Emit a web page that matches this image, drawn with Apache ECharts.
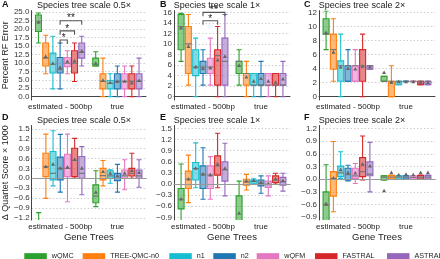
<!DOCTYPE html>
<html><head><meta charset="utf-8">
<script src="https://cdn.jsdelivr.net/npm/echarts@6/dist/echarts.min.js"></script>
<style>html,body{margin:0;padding:0;background:#fff}#c{width:440px;height:259px}</style>
</head><body><div id="c"></div>
<script>
const methods = ['wQMC','TREE-QMC-n0','n1','n2','wQFM','FASTRAL','ASTRAL-III'];
const colors = ['#2ca02c','#ff7f0e','#17becf','#1f77b4','#e377c2','#d62728','#9467bd'];
const groups = ['estimated - 500bp','true'];
const titles = ['Species tree scale 0.5×','Species tree scale 1×','Species tree scale 2×','Species tree scale 0.5×','Species tree scale 1×','Species tree scale 2×'];
const letters = ['A','B','C','D','E','F'];

// each row: [min, q1, median, q3, max, mean]
const A_est = [[15.9,19.3,22.2,24.2,24.8,22.0],[6.8,9.1,11.4,15.9,18.2,11.8],[2.3,7.0,9.6,12.9,17.9,9.8],[2.3,7.0,8.0,11.6,15.9,8.6],[6.8,8.9,9.9,11.6,13.6,10.4],[4.5,7.0,9.9,13.6,15.9,10.5],[9.1,11.4,13.1,15.9,17.9,13.5]];
const A_true = [[9.1,9.1,9.6,11.4,13.3,9.8],[0,2.3,4.5,6.8,11.4,4.8],[0,2.3,3.9,4.8,6.8,4.1],[0,2.3,4.5,6.8,9.1,4.4],[0,2.3,4.5,6.8,9.1,4.5],[0,2.3,4.5,6.8,9.1,4.0],[0,2.3,4.5,6.8,11.4,4.7]];
const B_est = [[6.7,8.9,13.3,15.6,15.8,13.0],[2.2,4.4,10.0,13.3,15.6,9.5],[0,4.0,5.6,8.9,11.1,5.6],[2.2,4.4,5.6,6.7,8.9,5.3],[2.2,4.4,5.6,7.3,11.1,5.4],[0,2.2,7.8,8.9,13.3,6.9],[0,2.2,6.7,11.1,15.6,7.6]];
const B_true = [[2.2,4.4,6.7,6.7,8.9,5.9],[0,2.2,4.4,4.4,6.7,3.7],[0,2.2,2.2,4.4,4.4,2.9],[0,2.2,2.2,4.4,6.7,3.4],[0,2.2,2.2,4.4,4.4,2.9],[0,2.2,2.2,4.4,4.4,2.7],[0,2.2,2.2,4.4,6.7,3.3]];
const C_est = [[6.7,8.9,8.9,11.1,12.2,9.1],[2.2,3.9,6.7,8.9,11.1,6.3],[0,2.2,4.4,5.1,8.9,4.2],[2.2,2.2,4.4,4.4,6.7,4.0],[2.2,2.2,4.4,4.4,6.7,3.9],[0,2.2,4.4,6.7,8.9,4.3],[3.9,3.9,4.4,4.4,4.4,4.2]];
const C_true = [[2.2,2.2,2.2,2.9,2.9,3.4],[0,0,2.2,2.2,4.4,2.0],[1.7,1.7,2.2,2.2,2.2,2.1],[2.2,2.2,2.2,2.2,2.2,2.1],[2.2,2.2,2.2,2.2,2.2,2.1],[1.7,1.7,2.2,2.2,2.2,2.0],[1.7,1.7,2.2,2.2,2.2,2.0]];
const D_est = [[-2.5,-2.0,-1.7,-1.4,-1.04,-1.7],[-0.61,0.05,0.35,0.76,1.34,0.35],[-0.23,-0.05,0.15,0.81,1.44,0.42],[-0.42,-0.05,0.30,0.64,1.33,0.30],[-0.71,0.05,0.30,0.73,1.34,0.33],[0.0,0.05,0.54,0.91,1.21,0.56],[-0.50,0.0,0.15,0.66,0.96,0.30]];
const D_true = [[-0.86,-0.74,-0.54,-0.20,0.23,-0.43],[-0.23,-0.05,0.08,0.30,0.54,0.20],[-0.15,0.0,0.07,0.23,0.26,0.15],[-0.42,-0.07,0.0,0.15,0.42,0.07],[-0.35,0.0,0.07,0.25,0.56,0.15],[0.0,0.07,0.15,0.30,0.76,0.23],[-0.27,0.0,0.07,0.25,0.56,0.17]];
const E_est = [[-1.1,-0.67,-0.41,-0.12,0.54,-0.41],[-0.50,-0.12,0.13,0.35,0.78,0.13],[-0.10,0.11,0.42,0.58,1.11,0.42],[-0.41,-0.12,0.26,0.49,0.98,0.26],[-0.41,-0.12,0.24,0.49,0.74,0.24],[-0.10,0.24,0.49,0.76,1.37,0.53],[-0.32,0.08,0.38,0.60,1.10,0.42]];
const E_true = [[-2.0,-1.3,-1.0,-0.32,0.08,-0.79],[-0.16,-0.03,0.06,0.13,0.26,0.08],[0.0,0.02,0.07,0.11,0.14,0.09],[-0.25,-0.05,0.02,0.11,0.22,0.04],[-0.32,-0.09,-0.01,0.08,0.22,0.0],[0.0,0.04,0.11,0.22,0.29,0.13],[-0.19,-0.03,0.06,0.18,0.29,0.09]];
const F_est = [[-1.5,-1.1,-0.62,-0.30,0.34,-0.58],[-0.77,-0.40,0.02,0.18,0.89,0.02],[0.02,0.06,0.15,0.31,0.65,0.22],[-0.04,-0.02,0.11,0.26,0.33,0.15],[-0.10,0.02,0.08,0.26,0.37,0.14],[-0.02,0.06,0.18,0.51,1.02,0.35],[-0.30,0.08,0.12,0.41,0.87,0.31]];
const F_true = [[-0.02,-0.02,0.05,0.08,0.08,-0.28],[0.0,0.0,0.05,0.09,0.09,0.15],[0.0,0.0,0.05,0.08,0.08,0.10],[0.0,0.0,0.05,0.08,0.08,0.11],[0.0,0.0,0.04,0.08,0.08,0.10],[0.0,0.0,0.05,0.09,0.09,0.15],[0.0,0.0,0.05,0.09,0.09,0.15]];

// significance brackets: [fromMethod, toMethod, value, label]
const A_sig = [[3,4,16.8,'*'],[3,5,19.5,'*'],[3,6,22.5,'**']];
const B_sig = [[3,5,14.4,'*'],[3,6,16.0,'**']];

const ticksA = [0,2.5,5,7.5,10,12.5,15,17.5,20,22.5,25];
const ticksB = [0,2,4,6,8,10,12,14,16];
const ticksC = [0,2,4,6,8,10,12];
const ticksD = [-1.2,-0.9,-0.6,-0.3,0,0.3,0.6,0.9,1.2,1.5];
const ticksE = [-0.9,-0.6,-0.3,0,0.3,0.6,0.9,1.2,1.5];
const ticksF = [-0.9,-0.6,-0.3,0,0.3,0.6,0.9,1.2];

const FONT = 'Liberation Sans, Arial, sans-serif';
const panels = [
  {est:A_est, tru:A_true, ticks:ticksA, min:-1, max:25.5, fmt:v=>v.toFixed(1), sig:A_sig, zero:false},
  {est:B_est, tru:B_true, ticks:ticksB, min:-0.63, max:16.33, fmt:v=>String(v), sig:B_sig, zero:false},
  {est:C_est, tru:C_true, ticks:ticksC, min:-0.47, max:12.25, fmt:v=>String(v), sig:null, zero:false},
  {est:D_est, tru:D_true, ticks:ticksD, min:-1.265, max:1.6, fmt:null, sig:null, zero:true},
  {est:E_est, tru:E_true, ticks:ticksE, min:-0.97, max:1.58, fmt:null, sig:null, zero:true},
  {est:F_est, tru:F_true, ticks:ticksF, min:-0.964, max:1.269, fmt:null, sig:null, zero:true}
];
const signed = v => (v < 0 ? '\u2212' + (-v).toFixed(1) : v.toFixed(1));

const lefts = [30,174,319];
const legendLefts = [19.3,77.7,164.3,208.3,251.7,310,382];
const grids = [], xAxes = [], yAxes = [], series = [], graphics = [];

function rgba(hex, a){
  const n = parseInt(hex.slice(1),16);
  return 'rgba('+((n>>16)&255)+','+((n>>8)&255)+','+(n&255)+','+a+')';
}

function boxRenderer(mi, color){
  return function(params, api){
    const g = api.value(0);
    const band = api.size([1,0])[0];
    const step = band*0.126;
    const cx = api.coord([g,0])[0] + (mi-3)*step;
    const bw = step*0.82, cw = bw*0.85;
    const py = k => api.coord([g, api.value(k)])[1];
    const yMin=py(1), yQ1=py(2), yMed=py(3), yQ3=py(4), yMax=py(5), yMean=py(6);
    const ls = {stroke:color, lineWidth:1.1, fill:null};
    return {type:'group', children:[
      {type:'line', shape:{x1:cx,y1:yMax,x2:cx,y2:yQ3}, style:ls},
      {type:'line', shape:{x1:cx,y1:yQ1,x2:cx,y2:yMin}, style:ls},
      {type:'line', shape:{x1:cx-cw/2,y1:yMax,x2:cx+cw/2,y2:yMax}, style:ls},
      {type:'line', shape:{x1:cx-cw/2,y1:yMin,x2:cx+cw/2,y2:yMin}, style:ls},
      {type:'rect', shape:{x:cx-bw/2,y:yQ3,width:bw,height:Math.max(yQ1-yQ3,0.5)}, style:{fill:rgba(color,0.55), stroke:color, lineWidth:1.1}},
      {type:'line', shape:{x1:cx-bw/2,y1:yMed,x2:cx+bw/2,y2:yMed}, style:{stroke:'#777', lineWidth:1.2}},
      {type:'polygon', shape:{points:[[cx,yMean-2.3],[cx-2,yMean+1.3],[cx+2,yMean+1.3]]}, style:{fill:'#666'}}
    ]};
  };
}

function sigRenderer(params, api){
  const band = api.size([1,0])[0];
  const step = band*0.126;
  const c0 = api.coord([0,0])[0];
  const x1 = c0 + (api.value(0)-3)*step, x2 = c0 + (api.value(1)-3)*step;
  const y = api.coord([0, api.value(2)])[1];
  return {type:'group', children:[
    {type:'polyline', shape:{points:[[x1,y+4],[x1,y],[x2,y],[x2,y+4]]}, style:{stroke:'#555', lineWidth:1.1, fill:null}},
    {type:'text', style:{text:api.value(3), x:(x1+x2)/2, y:y+3, align:'center', verticalAlign:'bottom', fontSize:10, fontFamily:FONT, fill:'#222'}}
  ]};
}

panels.forEach((p, i) => {
  const row = Math.floor(i/3), col = i%3;
  const top = row===0 ? 10.6 : 125.5;
  const height = row===0 ? 89.4 : 94.5;
  grids.push({left:lefts[col], top:top, width:116, height:height});
  xAxes.push({
    gridIndex:i, type:'category', data:groups,
    axisLine:{show:true, lineStyle:{color:'#444', width:1}},
    axisTick:{show:false},
    axisLabel:{interval:0, fontSize:8, color:'#222', margin:3, fontFamily:FONT},
    splitLine:{show:false},
    name: row===1 ? 'Gene Trees' : '',
    nameLocation:'middle', nameGap:7,
    nameTextStyle:{fontSize:9.5, color:'#222', fontFamily:FONT}
  });
  yAxes.push({
    gridIndex:i, type:'value', min:p.min, max:p.max,
    axisLine:{show:true, lineStyle:{color:'#444', width:1}},
    axisTick:{show:false, customValues:p.ticks},
    axisLabel:{customValues:p.ticks, formatter: p.fmt || signed, fontSize:8, color:'#333', margin:2, fontFamily:FONT},
    splitLine:{show:true, lineStyle:{color:'#cfcfcf', type:[1.5,2], width:1}},
    name: col===0 ? (row===0 ? 'Percent RF Error' : 'Δ Quartet Score × 1000') : '',
    nameLocation:'middle', nameGap:17,
    nameTextStyle:{fontSize:9, color:'#222', fontFamily:FONT}
  });
  methods.forEach((m, mi) => {
    const s = {
      name:m, type:'custom', xAxisIndex:i, yAxisIndex:i, clip:true,
      itemStyle:{color:colors[mi]},
      renderItem: boxRenderer(mi, colors[mi]),
      encode:{x:0, y:[1,2,3,4,5,6]},
      data:[[0].concat(p.est[mi]), [1].concat(p.tru[mi])],
      silent:true
    };
    if (mi===0 && p.zero) {
      s.markLine = {silent:true, symbol:'none', label:{show:false}, data:[{yAxis:0}], lineStyle:{color:'#999', type:'solid', width:1}};
    }
    series.push(s);
  });
  if (p.sig) {
    series.push({
      type:'custom', xAxisIndex:i, yAxisIndex:i, renderItem:sigRenderer, silent:true,
      encode:{x:0, y:2}, data:p.sig
    });
  }
  const tx = [84,217,362][col];
  graphics.push({type:'text', x:tx, y: row===0 ? 5.5 : 121, style:{text:titles[i], align:'center', verticalAlign:'middle', fontSize:9, fontFamily:FONT, fill:'#222'}});
  graphics.push({type:'text', x:[2,160,304][col], y: row===0 ? 5 : 118, style:{text:letters[i], align:'left', verticalAlign:'middle', fontSize:9, fontWeight:'bold', fontFamily:FONT, fill:'#111'}});
});

const legends = methods.map((n, i) => ({
  top:248, left:legendLefts[i], itemWidth:22.5, itemHeight:6.7, icon:'rect',
  textStyle:{fontSize:7.2, color:'#222', fontFamily:FONT},
  data:[{name:n, itemStyle:{color:colors[i], borderWidth:0}}]
}));

const chart = echarts.init(document.getElementById('c'), null, {renderer:'canvas'});
chart.setOption({
  animation:false,
  backgroundColor:'#fff',
  grid:grids, xAxis:xAxes, yAxis:yAxes, series:series,
  graphic:graphics,
  legend:legends
});
</script></body></html>
